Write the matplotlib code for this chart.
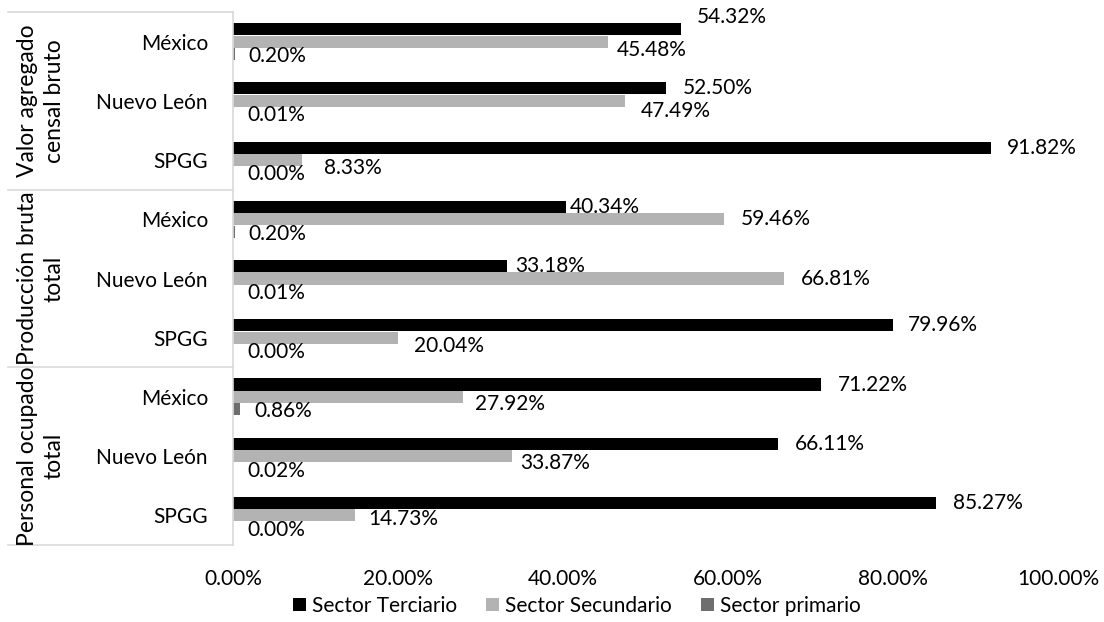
import matplotlib.pyplot as plt
from matplotlib.lines import Line2D
from matplotlib.patches import Patch
from matplotlib.ticker import FuncFormatter
from matplotlib.transforms import Bbox, TransformedBbox

plt.rcParams['font.family'] = ['Lato', 'DejaVu Sans']
plt.rcParams['font.size'] = 15

# rows from top to bottom, three per indicator
entities = ['México', 'Nuevo León', 'SPGG'] * 3
indicators = ['Valor agregado\ncensal bruto', 'Producción bruta\ntotal', 'Personal ocupado\ntotal']
series_names = ['Sector Terciario', 'Sector Secundario', 'Sector primario']
terciario = [54.32, 52.50, 91.82, 40.34, 33.18, 79.96, 71.22, 66.11, 85.27]
secundario = [45.48, 47.49, 8.33, 59.46, 66.81, 20.04, 27.92, 33.87, 14.73]
primario = [0.20, 0.01, 0.00, 0.20, 0.01, 0.00, 0.86, 0.02, 0.00]

colors = ['#000000', '#b3b3b3', '#6e6e6e']

# label nudges in pixels (right of bar end, downwards)
ter_off = [(16, -12), (17, 0), (16, 0), (4, 0), (8, 0), (15, 0), (17, 0), (16, 0), (17, 0)]
sec_off = [(9, 8), (16, 10), (22, 8), (17, 0), (17, 0), (16, 8), (12, 7), (8, 7), (14, 4)]
pri_off = [(14, 2)] * 9

W, H = 1104, 622
fig = plt.figure(figsize=(W / 100, H / 100), dpi=100)
ax_l, ax_r, ax_t, ax_b = 233, 1058, 12, 545
ax = fig.add_axes([ax_l / W, 1 - ax_b / H, (ax_r - ax_l) / W, (ax_b - ax_t) / H])

bh = 0.205
rows = list(range(len(entities)))
for k, (vals, offs) in enumerate(zip([terciario, secundario, primario], [ter_off, sec_off, pri_off])):
    ys = [r + (k - 1) * 0.21 for r in rows]
    ax.barh(ys, vals, height=bh, color=colors[k], label=series_names[k])
    for y, v, (dx, dy) in zip(ys, vals, offs):
        ax.annotate(f'{v:.2f}%', xy=(v, y), xytext=(dx, -dy), textcoords='offset pixels',
                    ha='left', va='center', fontsize=15, color='#000000')

ax.set_xlim(0, 100)
ax.set_ylim(len(entities) - 0.5, -0.5)
ax.set_xticks([0, 20, 40, 60, 80, 100])
ax.xaxis.set_major_formatter(FuncFormatter(lambda x, p: f'{x:.2f}%'))
ax.set_yticks(rows)
ax.set_yticklabels(entities)
ax.tick_params(axis='y', length=0, pad=18)
ax.tick_params(axis='x', length=0, pad=17)
for s in ['top', 'right', 'bottom']:
    ax.spines[s].set_visible(False)
ax.spines['left'].set_color('#d9d9d9')
ax.spines['left'].set_linewidth(1.2)

# boxes around the indicator groups on the left
row_h = (ax_b - ax_t) / 9
for g in range(4):
    yy = 1 - (ax_t + g * 3 * row_h) / H
    fig.add_artist(Line2D([8 / W, ax_l / W], [yy, yy], color='#d9d9d9', lw=1.2))

for g, name in enumerate(indicators):
    top = ax_t + g * 3 * row_h
    bot = top + 3 * row_h
    clip = TransformedBbox(Bbox.from_extents(8 / W, 1 - bot / H, ax_l / W, 1 - top / H), fig.transFigure)
    t = fig.text(41 / W, 1 - (top + bot) / 2 / H, name, rotation=90, ha='center', va='center',
                 multialignment='center', linespacing=1.35, fontsize=16.5)
    t.set_clip_box(clip)
    t.set_clip_on(True)

handles = [Patch(facecolor=c, label=n) for c, n in zip(colors, series_names)]
fig.legend(handles=handles, loc='center', bbox_to_anchor=(577 / W, 1 - 606 / H), ncol=3,
           frameon=False, handlelength=0.6, handleheight=0.6, handletextpad=0.3,
           columnspacing=1.4, fontsize=15)

fig.savefig('out.png', dpi=100)
